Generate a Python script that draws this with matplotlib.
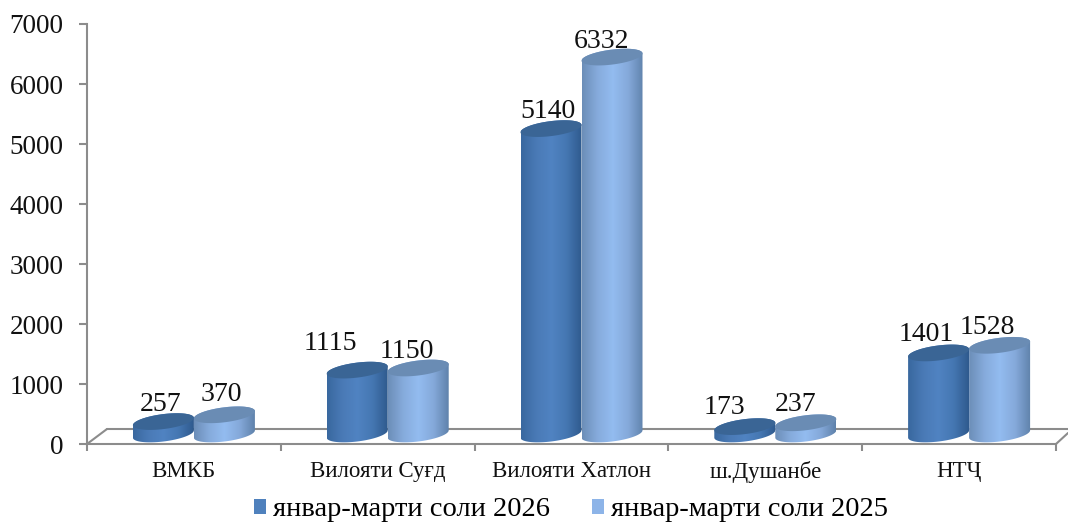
import numpy as np
from matplotlib import pyplot as plt
from matplotlib.colors import LinearSegmentedColormap
from matplotlib.patches import Patch, Polygon

plt.rcParams['font.family'] = ['Liberation Serif', 'DejaVu Serif']

categories = ['ВМКБ', 'Вилояти Суғд', 'Вилояти Хатлон', 'ш.Душанбе', 'НТҶ']
values_2026 = [257, 1115, 5140, 173, 1401]
values_2025 = [370, 1150, 6332, 237, 1528]
name_2026 = 'январ-марти соли 2026'
name_2025 = 'январ-марти соли 2025'
yticks = [0, 1000, 2000, 3000, 4000, 5000, 6000, 7000]

# hand placed label offsets in pixels from the centre of the bar top
offset_2026 = [(-2.5, 17), (-27, 27), (-3, 17), (-20, 19), (-12, 18)]
offset_2025 = [(-3, 20), (-11, 17), (-11, 16), (-10, 18), (-12, 18)]

W, H = 1068, 526
x0, x1 = 87, 1056      # ends of the front axis
y0, y1 = 444, 24       # pixels of 0 and 7000
bar_w = 61
shift = 10             # 3d depth shift of bars to the right
base_up = 10           # bottom ellipse centre above front axis, px
top_up = 7             # zero level of the bar tops above front axis, px

fig = plt.figure(figsize=(W/100, H/100), dpi=100)
ax = fig.add_axes([x0/W, 1-y0/H, (x1-x0)/W, (y0-y1)/H])

px_x = (x1-x0)/5.0        # pixels per category
px_y = (y0-y1)/7000.0     # pixels per unit

def px(x, y):
    return (x-x0)/px_x, (y0-y)/px_y

dark = LinearSegmentedColormap.from_list('d', ['#39689f', '#4a7ab6', '#5083c2', '#4577b2', '#2f5a8e'])
light = LinearSegmentedColormap.from_list('l', ['#6c8eb8', '#86abdc', '#93bcf0', '#85a9da', '#5f82ab'])

def ellipse(cx, cy, t):
    a = bar_w/2.0
    b = 7.5
    s = 0.12
    return cx + a*np.cos(t)/px_x, cy + (b*np.sin(t) + s*a*np.cos(t))/px_y

def cylinder(i, side, value, cmap, top_color):
    cx = i + 0.5 + (shift + side*bar_w/2.0)/px_x
    base = base_up/px_y
    top = top_up/px_y + value
    t1 = np.linspace(np.pi, 2*np.pi, 60)
    t2 = np.linspace(0, np.pi, 60)
    xa, ya = ellipse(cx, base, t1)
    xb, yb = ellipse(cx, top, t2)
    body = Polygon(np.column_stack([np.r_[xa, xb], np.r_[ya, yb]]), closed=True,
                   transform=ax.transData, fc='none', ec='none')
    ax.add_patch(body)
    grad = np.linspace(0, 1, 128).reshape(1, -1)
    half = bar_w/2.0/px_x
    im = ax.imshow(grad, cmap=cmap, aspect='auto', zorder=3+side,
                   extent=[cx-half, cx+half, 0, top+20/px_y])
    im.set_clip_path(body)
    tt = np.linspace(0, 2*np.pi, 120)
    xt, yt = ellipse(cx, top, tt)
    ax.fill(xt, yt, color=top_color, lw=0, zorder=3.5+side, clip_on=False)
    return cx, top

labels = []
for i in range(len(categories)):
    cx, top = cylinder(i, -1, values_2026[i], dark, '#3a6595')
    labels.append((cx, top, values_2026[i], offset_2026[i]))
    cx, top = cylinder(i, 1, values_2025[i], light, '#6a8cb4')
    labels.append((cx, top, values_2025[i], offset_2025[i]))

for cx, top, v, off in labels:
    ax.annotate(str(v), (cx, top), xytext=(off[0]*0.72, off[1]*0.72), textcoords='offset points',
                ha='center', va='center', fontsize=20, color='#111111', zorder=8,
                annotation_clip=False)

# floor of the 3d box
axis_col = '#8c8c8c'
for a, b in [((87, 444), (107, 429)), ((107, 429), (1068, 429)), ((1056, 444), (1068, 433))]:
    pa, pb = px(*a), px(*b)
    ax.plot([pa[0], pb[0]], [pa[1], pb[1]], color=axis_col, lw=1.5, clip_on=False, zorder=1,
            solid_capstyle='round')

ax.set_xlim(0, 5)
ax.set_ylim(0, 7000)
ax.patch.set_alpha(0)
for s in ['top', 'right']:
    ax.spines[s].set_visible(False)
for s in ['left', 'bottom']:
    ax.spines[s].set_color(axis_col)
    ax.spines[s].set_linewidth(1.5)

ax.set_yticks(yticks)
ax.tick_params(axis='y', length=6, width=1.5, color=axis_col, pad=11, labelsize=19.5, labelcolor='#111111')
ax.set_xticks(range(6))
ax.set_xticklabels([])
ax.set_xticks(np.arange(5)+0.5, categories, minor=True)
ax.tick_params(axis='x', which='major', length=5, width=1.5, color=axis_col)
ax.tick_params(axis='x', which='minor', length=0, pad=12, labelsize=16.5, labelcolor='#111111')

handles = [Patch(fc='#4f81bd', ec='none'), Patch(fc='#8db4e8', ec='none')]
ax.legend(handles, [name_2026, name_2025], ncol=2, frameon=False, fontsize=20.5,
          loc='center', bbox_to_anchor=(571/W, 1-510/H), bbox_transform=fig.transFigure,
          handlelength=0.42, handleheight=0.42, handletextpad=0.25, columnspacing=1.5, borderpad=0)

fig.savefig('out.png', dpi=100)
